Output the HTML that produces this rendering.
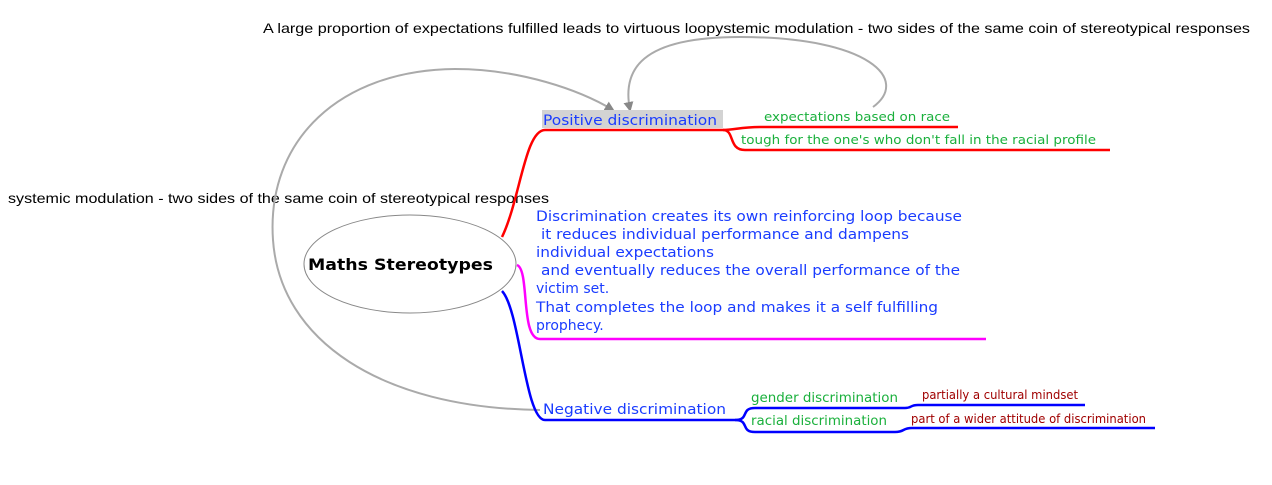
<!DOCTYPE html>
<html><head><meta charset="utf-8"><style>
html,body{margin:0;padding:0;background:#fff;width:1272px;height:485px;overflow:hidden}
svg text{font-family:"DejaVu Sans","Liberation Sans",sans-serif}
.k{font-family:"Liberation Sans",sans-serif;font-size:14px;fill:#000}
</style></head><body>
<svg width="1272" height="485" xmlns="http://www.w3.org/2000/svg">
<defs><marker id="ar" markerWidth="10" markerHeight="10" refX="8" refY="5" orient="auto" markerUnits="userSpaceOnUse"><path d="M0,0 L10,5 L0,10 z" fill="#888"/></marker></defs>
<text class="k" x="263" y="33" textLength="987" lengthAdjust="spacingAndGlyphs">A large proportion of expectations fulfilled leads to virtuous loopystemic modulation - two sides of the same coin of stereotypical responses</text>
<text class="k" x="8" y="203" textLength="541" lengthAdjust="spacingAndGlyphs">systemic modulation - two sides of the same coin of stereotypical responses</text>
<path d="M540,410 C380,408 280,340 273,240 C266,140 340,70 455,69 C520,69 580,90 613,110" fill="none" stroke="#aaa" stroke-width="2" marker-end="url(#ar)"/>
<path d="M873,107 C910,80 870,37 740,37 C640,37 622,70 630,110" fill="none" stroke="#aaa" stroke-width="2" marker-end="url(#ar)"/>
<ellipse cx="410" cy="264" rx="106" ry="49" fill="#fff" stroke="#888" stroke-width="1"/>
<text x="308" y="270" font-size="16" font-weight="bold" textLength="185" lengthAdjust="spacingAndGlyphs">Maths Stereotypes</text>
<rect x="542" y="110" width="181" height="18" fill="#d3d3d3"/>
<text x="543" y="125" font-size="14" fill="#1a3cff" textLength="174" lengthAdjust="spacingAndGlyphs">Positive discrimination</text>
<path d="M502,237 C520,200 525,130 545,130 L723,130 C735,130 740,127 760,127 L958,127" fill="none" stroke="red" stroke-width="2.5"/>
<path d="M723,130 C735,130 728,150 745,150 L1110,150" fill="none" stroke="red" stroke-width="2.5"/>
<text x="764" y="121" font-size="12.5" fill="#1ab03c" textLength="186" lengthAdjust="spacingAndGlyphs">expectations based on race</text>
<text x="741" y="144" font-size="12.5" fill="#1ab03c" textLength="355" lengthAdjust="spacingAndGlyphs">tough for the one's who don't fall in the racial profile</text>
<path d="M517,265 C530,270 520,339 540,339 L986,339" fill="none" stroke="#f0f" stroke-width="2.5"/>
<g font-size="14" fill="#1a3cff">
<text x="536" y="221" textLength="426" lengthAdjust="spacingAndGlyphs">Discrimination creates its own reinforcing loop because</text>
<text x="541" y="239" textLength="368" lengthAdjust="spacingAndGlyphs">it reduces individual performance and dampens</text>
<text x="536" y="257" textLength="178" lengthAdjust="spacingAndGlyphs">individual expectations</text>
<text x="541" y="275" textLength="419" lengthAdjust="spacingAndGlyphs">and eventually reduces the overall performance of the</text>
<text x="536" y="293">victim set.</text>
<text x="536" y="312" textLength="402" lengthAdjust="spacingAndGlyphs">That completes the loop and makes it a self fulfilling</text>
<text x="536" y="330">prophecy.</text>
</g>
<path d="M502,291 C520,310 525,420 545,420 L735,420 C750,420 740,408 755,408 L905,408 C912,408 910,405 918,405 L1085,405" fill="none" stroke="#00f" stroke-width="2.5"/>
<path d="M735,420 C750,420 740,432 755,432 L895,432 C905,432 902,428 912,428 L1155,428" fill="none" stroke="#00f" stroke-width="2.5"/>
<text x="543" y="414" font-size="14" fill="#1a3cff" textLength="183" lengthAdjust="spacingAndGlyphs">Negative discrimination</text>
<text x="751" y="402" font-size="13" fill="#1ab03c" textLength="147" lengthAdjust="spacingAndGlyphs">gender discrimination</text>
<text x="751" y="425" font-size="13" fill="#1ab03c" textLength="136" lengthAdjust="spacingAndGlyphs">racial discrimination</text>
<text x="922" y="399" font-size="12" fill="#a00000" textLength="156" lengthAdjust="spacingAndGlyphs">partially a cultural mindset</text>
<text x="911" y="423" font-size="12" fill="#a00000" textLength="235" lengthAdjust="spacingAndGlyphs">part of a wider attitude of discrimination</text>
</svg>
</body></html>
